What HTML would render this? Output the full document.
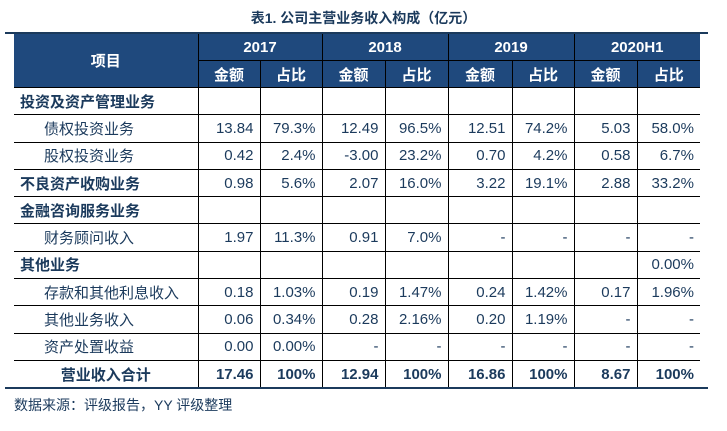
<!DOCTYPE html>
<html><head><meta charset="utf-8"><style>
body{margin:0;width:727px;height:431px;background:#fff;position:relative;font-family:"Liberation Sans","Noto Sans CJK SC",sans-serif;color:#1b3a5c;overflow:hidden}
.title{position:absolute;top:8px;left:0;width:727px;text-align:center;font-weight:bold;font-size:14px;color:#1b3a5c}
.tl{position:absolute;left:5px;width:703px;height:2px;background:#1b3a5c}
table{position:absolute;left:14px;top:34px;border-collapse:collapse;table-layout:fixed;font-size:15px}
td{border:1px solid #000;padding:0 6px;height:26.3px;text-align:right;white-space:nowrap;overflow:hidden}
td.l{text-align:left;border-left:none}
th{background:#1f497d;color:#fff;border:1px solid #000;font-size:15px;font-weight:bold;height:26px;padding:0}
tr.h th{border-top:none}
.b{font-weight:bold}
.i{padding-left:30px}
.foot{position:absolute;left:14px;top:395px;font-size:14px;color:#1b3a5c}
</style></head><body>
<div class="title">表1. 公司主营业务收入构成（亿元）</div>
<div class="tl" style="top:32px"></div>
<table>
<colgroup><col style="width:184px"><col style="width:62px"><col style="width:62px"><col style="width:63px"><col style="width:63px"><col style="width:64px"><col style="width:62px"><col style="width:63px"><col style="width:63px"></colgroup>
<tr class="h"><th rowspan="2" style="border-left:none">项目</th><th colspan="2">2017</th><th colspan="2">2018</th><th colspan="2">2019</th><th colspan="2" style="border-right:none">2020H1</th></tr>
<tr><th>金额</th><th>占比</th><th>金额</th><th>占比</th><th>金额</th><th>占比</th><th>金额</th><th style="border-right:none">占比</th></tr>
<tr><td class="l b">投资及资产管理业务</td><td></td><td></td><td></td><td></td><td></td><td></td><td></td><td style="border-right:none"></td></tr>
<tr><td class="l i">债权投资业务</td><td>13.84</td><td>79.3%</td><td>12.49</td><td>96.5%</td><td>12.51</td><td>74.2%</td><td>5.03</td><td style="border-right:none">58.0%</td></tr>
<tr><td class="l i">股权投资业务</td><td>0.42</td><td>2.4%</td><td>-3.00</td><td>23.2%</td><td>0.70</td><td>4.2%</td><td>0.58</td><td style="border-right:none">6.7%</td></tr>
<tr><td class="l b">不良资产收购业务</td><td>0.98</td><td>5.6%</td><td>2.07</td><td>16.0%</td><td>3.22</td><td>19.1%</td><td>2.88</td><td style="border-right:none">33.2%</td></tr>
<tr><td class="l b">金融咨询服务业务</td><td></td><td></td><td></td><td></td><td></td><td></td><td></td><td style="border-right:none"></td></tr>
<tr><td class="l i">财务顾问收入</td><td>1.97</td><td>11.3%</td><td>0.91</td><td>7.0%</td><td>-</td><td>-</td><td>-</td><td style="border-right:none">-</td></tr>
<tr><td class="l b">其他业务</td><td></td><td></td><td></td><td></td><td></td><td></td><td></td><td style="border-right:none">0.00%</td></tr>
<tr><td class="l i">存款和其他利息收入</td><td>0.18</td><td>1.03%</td><td>0.19</td><td>1.47%</td><td>0.24</td><td>1.42%</td><td>0.17</td><td style="border-right:none">1.96%</td></tr>
<tr><td class="l i">其他业务收入</td><td>0.06</td><td>0.34%</td><td>0.28</td><td>2.16%</td><td>0.20</td><td>1.19%</td><td>-</td><td style="border-right:none">-</td></tr>
<tr><td class="l i">资产处置收益</td><td>0.00</td><td>0.00%</td><td>-</td><td>-</td><td>-</td><td>-</td><td>-</td><td style="border-right:none">-</td></tr>
<tr class="b"><td class="l b" style="text-align:center;border-bottom:none">营业收入合计</td><td style="border-bottom:none">17.46</td><td style="border-bottom:none">100%</td><td style="border-bottom:none">12.94</td><td style="border-bottom:none">100%</td><td style="border-bottom:none">16.86</td><td style="border-bottom:none">100%</td><td style="border-bottom:none">8.67</td><td style="border-bottom:none;border-right:none">100%</td></tr>
</table>
<div class="tl" style="top:387px"></div>
<div class="foot">数据来源：评级报告，YY 评级整理</div>
</body></html>
